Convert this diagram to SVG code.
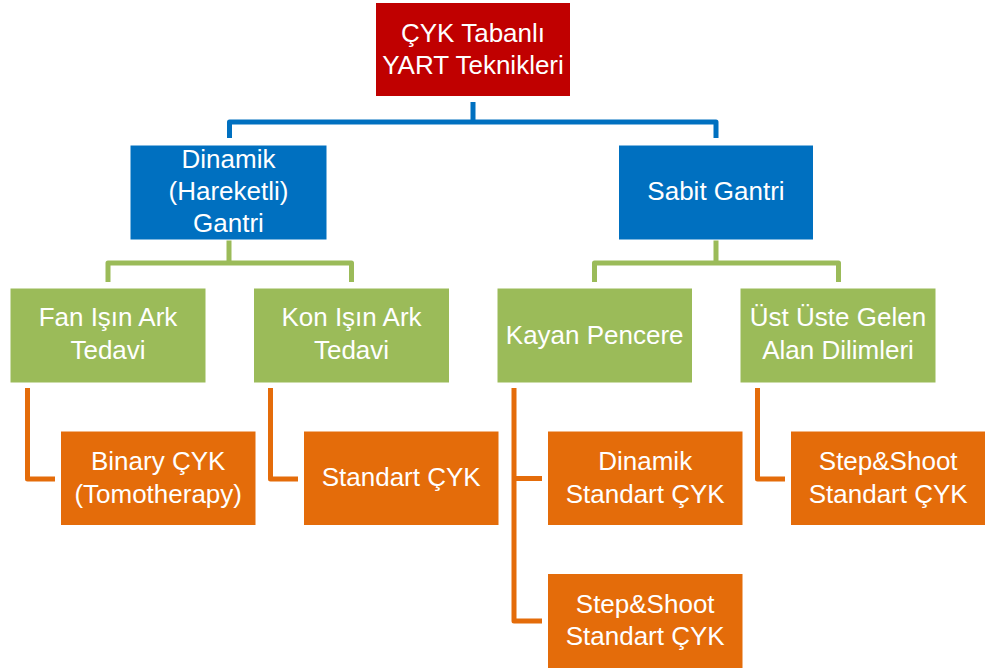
<svg xmlns="http://www.w3.org/2000/svg" width="985" height="671" viewBox="0 0 985 671">
<style>
rect{stroke:#ffffff;stroke-width:1}
.r{fill:#C00000}.b{fill:#0070C0}.g{fill:#9BBB59}.o{fill:#E46C0A}
text{font-family:"Liberation Sans",Arial,sans-serif;font-size:26px;fill:#ffffff;text-anchor:middle}
#connectors path{fill:none;stroke-width:5;stroke-linejoin:round;stroke-linecap:butt}
.cb{stroke:#0070C0}.cg{stroke:#9BBB59}.co{stroke:#E46C0A}
</style>
<rect width="985" height="671" fill="#ffffff" stroke="none"/>
<g id="connectors">
<path class="cb" d="M473,102 V122 M229.5,138 V122 H716 V138"/>
<path class="cg" d="M229,240 V263 M108,282 V263 H351.5 V282"/>
<path class="cg" d="M716,240 V263 M594.5,282 V263 H838.5 V282"/>
<path class="co" d="M27.5,388 V479 H55"/>
<path class="co" d="M270.5,388 V479 H298"/>
<path class="co" d="M514,388 V621 H542 M514,478.5 H542"/>
<path class="co" d="M757.5,388 V479 H785"/>
</g>
<g id="root"><rect class="r" x="375.5" y="2.5" width="195" height="94"/><text x="473" y="42">ÇYK Tabanlı</text><text x="473" y="74">YART Teknikleri</text></g>
<g id="dinamik"><rect class="b" x="130" y="145" width="197" height="95"/><text x="228.5" y="168">Dinamik</text><text x="228.5" y="200">(Hareketli)</text><text x="228.5" y="232">Gantri</text></g>
<g id="sabit"><rect class="b" x="618.5" y="145" width="195" height="95"/><text x="716" y="200">Sabit Gantri</text></g>
<g id="fan"><rect class="g" x="10" y="288" width="196" height="95"/><text x="108" y="326">Fan Işın Ark</text><text x="108" y="359">Tedavi</text></g>
<g id="kon"><rect class="g" x="253.5" y="288" width="196" height="95"/><text x="351.5" y="326">Kon Işın Ark</text><text x="351.5" y="359">Tedavi</text></g>
<g id="kayan"><rect class="g" x="497" y="288" width="195.5" height="95"/><text x="594.7" y="344">Kayan Pencere</text></g>
<g id="ust"><rect class="g" x="740" y="288" width="196" height="95"/><text x="838" y="326">Üst Üste Gelen</text><text x="838" y="359">Alan Dilimleri</text></g>
<g id="binary"><rect class="o" x="60.5" y="431" width="195.5" height="94.5"/><text x="158.2" y="470">Binary ÇYK</text><text x="158.2" y="503">(Tomotherapy)</text></g>
<g id="standart"><rect class="o" x="303.5" y="431" width="195.5" height="94.5"/><text x="401.2" y="486">Standart ÇYK</text></g>
<g id="dinamikstd"><rect class="o" x="547.5" y="431" width="195.5" height="94.5"/><text x="645.2" y="470">Dinamik</text><text x="645.2" y="503">Standart ÇYK</text></g>
<g id="stepshoot1"><rect class="o" x="790.5" y="431" width="195.5" height="94.5"/><text x="888.2" y="470">Step&amp;Shoot</text><text x="888.2" y="503">Standart ÇYK</text></g>
<g id="stepshoot2"><rect class="o" x="547.5" y="573.5" width="195.5" height="95"/><text x="645.2" y="613">Step&amp;Shoot</text><text x="645.2" y="645">Standart ÇYK</text></g>
</svg>
